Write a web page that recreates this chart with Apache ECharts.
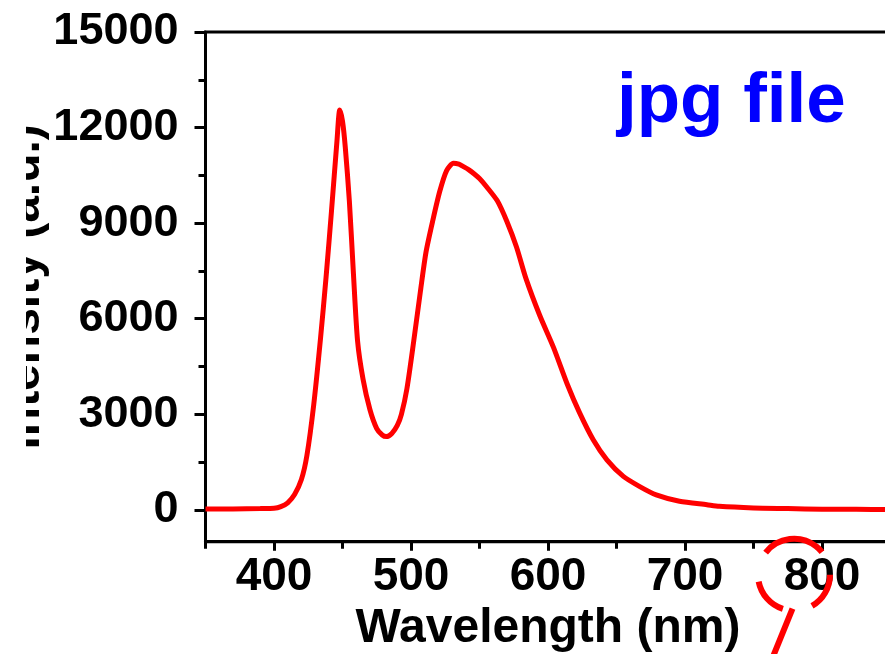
<!DOCTYPE html>
<html><head><meta charset="utf-8">
<script src="https://cdn.jsdelivr.net/npm/echarts@6/dist/echarts.min.js"></script>
<style>html,body{margin:0;padding:0;background:#fff}#c{width:885px;height:654px}</style>
</head><body><div id="c"></div>
<script>
const wavelengths = [350,370,390,400,405,410,415,420,424,429,434,438,442,446,448,450,452,455,458,461,465,470,475,479,482,486,490,493,497,502,507,511,516,521,526,531,535,538,542,546,550,555,563,570,577,584,594,604,614,623,633,643,655,667,679,696,716,725,750,775,800,825,850];
const intensities = [30,30,40,50,100,220,480,950,1700,3300,5400,7300,9400,11600,12550,12200,11400,9700,7400,5300,4100,3150,2550,2350,2300,2400,2650,3000,3800,5300,6900,8100,9100,10000,10650,10880,10850,10780,10680,10550,10400,10150,9700,9050,8250,7250,6100,5100,3950,3050,2200,1570,1050,730,470,270,160,110,60,40,20,15,10];
const xTickLabels = [400,500,600,700,800];
const xMinorTicks = [350,450,550,650,750,850];
const yTickLabels = [0,3000,6000,9000,12000,15000];
const yMinorTicks = [1500,4500,7500,10500,13500];
const xAxisTitle = 'Wavelength (nm)';
const yAxisTitle = 'Intensity (a.u.)';
const noteText = 'jpg file';
const circledTick = 800;

const FONT = "'Liberation Sans', Arial, sans-serif";
const chart = echarts.init(document.getElementById('c'), null, {renderer:'canvas'});
const seriesData = wavelengths.map((w,i)=>[w, intensities[i]]);
const lineBlack = {color:'#000', width:3};
const plain = v => String(v);

chart.setOption({
  animation:false,
  backgroundColor:'#fff',
  grid:{left:205.5, top:32, width:685, height:509.7, show:true, borderColor:'#000', borderWidth:3, containLabel:false, outerBoundsMode:'none'},
  xAxis:[{
    type:'value', min:350, max:850,
    axisLine:{show:true, onZero:false, lineStyle:lineBlack},
    axisTick:{show:true, inside:false, length:9, lineStyle:lineBlack, customValues:xTickLabels},
    axisLabel:{show:true, margin:13, color:'#000', fontFamily:FONT, fontWeight:'bold', fontSize:46, customValues:xTickLabels, formatter:plain},
    splitLine:{show:false},
    name:xAxisTitle, nameLocation:'middle', nameGap:63, nameMoveOverlap:false,
    nameTextStyle:{color:'#000', fontFamily:FONT, fontWeight:'bold', fontSize:48}
  },{
    type:'value', min:350, max:850, position:'bottom',
    axisLine:{show:false, onZero:false},
    axisTick:{show:true, inside:false, length:7, lineStyle:lineBlack, customValues:xMinorTicks},
    axisLabel:{show:false},
    splitLine:{show:false}
  }],
  yAxis:[{
    type:'value', min:-1000, max:15000,
    axisLine:{show:true, onZero:false, lineStyle:lineBlack},
    axisTick:{show:true, inside:false, length:11, lineStyle:lineBlack, customValues:yTickLabels},
    axisLabel:{show:true, margin:27, color:'#000', fontFamily:FONT, fontWeight:'bold', fontSize:45, customValues:yTickLabels, formatter:plain},
    splitLine:{show:false},
    name:yAxisTitle, nameLocation:'middle', nameGap:156, nameMoveOverlap:false,
    nameTextStyle:{color:'#000', fontFamily:FONT, fontWeight:'bold', fontSize:48}
  },{
    type:'value', min:-1000, max:15000, position:'left',
    axisLine:{show:false, onZero:false},
    axisTick:{show:true, inside:false, length:7, lineStyle:lineBlack, customValues:yMinorTicks},
    axisLabel:{show:false},
    splitLine:{show:false}
  }],
  series:[{
    type:'line', xAxisIndex:0, yAxisIndex:0, data:seriesData,
    showSymbol:false, smooth:0.25,
    lineStyle:{color:'#ff0000', width:5},
    clip:true
  }]
});

const tickX = chart.convertToPixel({xAxisIndex:0}, circledTick);
const axisY = chart.convertToPixel({yAxisIndex:0}, -1000);
const cx = tickX - 28, cy = axisY + 33, r = 36;
const deg = Math.PI/180;
const arcs = [[0,60],[108,169],[218,321]].map(a=>({
  type:'arc', z:200,
  shape:{cx:cx, cy:cy, r:r, startAngle:a[0]*deg, endAngle:a[1]*deg, clockwise:true},
  style:{stroke:'#ff0000', lineWidth:6, fill:null}
}));
chart.setOption({
  graphic:[
    {type:'rect', z:150, shape:{x:0, y:0, width:26, height:654}, style:{fill:'#fff'}},
    {type:'text', z:150, style:{text:noteText, x:617, y:67, fill:'#0000ff', font:"bold 71px 'Liberation Sans', Arial, sans-serif", align:'left', verticalAlign:'top'}},
    ...arcs,
    {type:'line', z:200, shape:{x1:cx-1.5, y1:cy+34, x2:cx-1.5-18.7*80/46, y2:cy+34+80}, style:{stroke:'#ff0000', lineWidth:6}}
  ]
});
</script>
</body></html>
